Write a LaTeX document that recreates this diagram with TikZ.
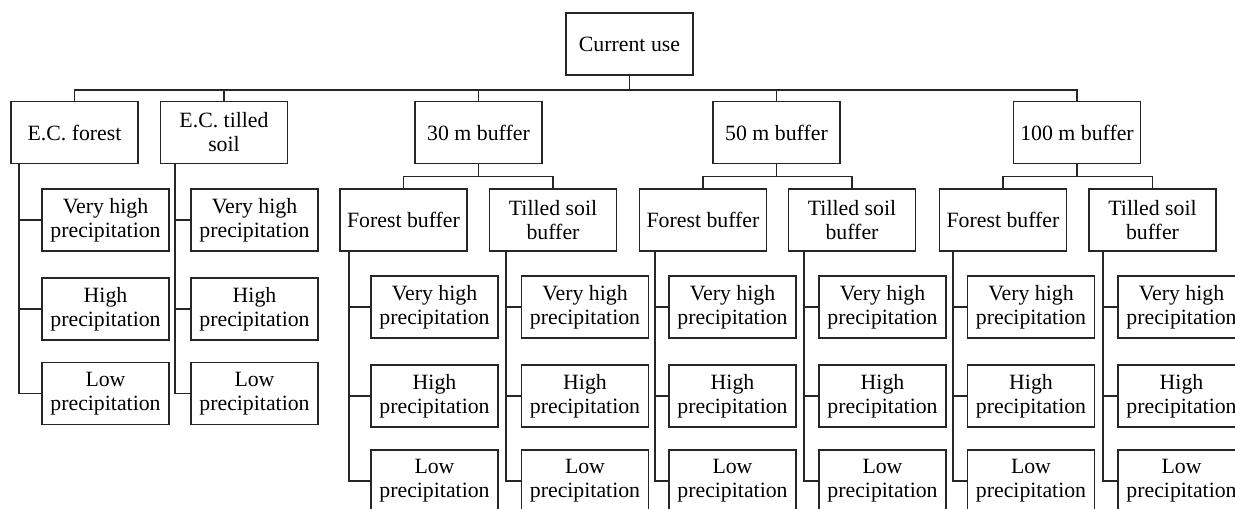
\documentclass[tikz,border=0pt]{standalone}
\usepackage{fontspec}
\setmainfont{Liberation Serif}
\begin{document}
\begin{tikzpicture}[x=1pt,y=-1pt,
  box/.style={draw=black!85, line width=1.8pt, minimum width=127pt, minimum height=62pt,
    inner sep=0pt, align=center, font=\fontsize{21.8}{24}\selectfont},
  conn/.style={draw=black!85, line width=1.8pt}]
\clip (0,0) rectangle (1235,509);
% root
\node[box] (cu) at (629.5,44) {Current use};
% level 1
\node[box] (ecf) at (74.5,132.5) {E.C. forest};
\node[box] (ect) at (224,132.5) {E.C. tilled\\soil};
\node[box] (b30) at (478.5,132.5) {30 m buffer};
\node[box] (b50) at (776.5,132.5) {50 m buffer};
\node[box] (b100) at (1077,132.5) {100 m buffer};
% level 2
\node[box] (f30) at (403.5,220) {Forest buffer};
\node[box] (t30) at (553,220) {Tilled soil\\buffer};
\node[box] (f50) at (703,220) {Forest buffer};
\node[box] (t50) at (852,220) {Tilled soil\\buffer};
\node[box] (f100) at (1003,220) {Forest buffer};
\node[box] (t100) at (1152.5,220) {Tilled soil\\buffer};
% E.C. children
\foreach \p/\x in {ecf/105.5, ect/254.5}{
  \node[box] (\p a) at (\x,220) {Very high\\precipitation};
  \node[box] (\p b) at (\x,309) {High\\precipitation};
  \node[box] (\p c) at (\x,393.5) {Low\\precipitation};
}
% buffer children
\foreach \p/\x in {f30/434.5, t30/585, f50/732.5, t50/882.5, f100/1031, t100/1181.5}{
  \node[box] (\p a) at (\x,307) {Very high\\precipitation};
  \node[box] (\p b) at (\x,396) {High\\precipitation};
  \node[box] (\p c) at (\x,481) {Low\\precipitation};
}
% root connectors
\foreach \c in {ecf,ect,b30,b50,b100}
  \draw[conn] (cu.south) -- ++(0,14) -| (\c.north);
% level 2 connectors
\foreach \p/\a/\b in {b30/f30/t30, b50/f50/t50, b100/f100/t100}{
  \draw[conn] (\p.south) -- ++(0,12) -| (\a.north);
  \draw[conn] (\p.south) -- ++(0,12) -| (\b.north);
}
% leaf connectors
\foreach \p/\o in {ecf/9, ect/15, f30/10, t30/17, f50/16, t50/16, f100/14, t100/15}{
  \coordinate (\p v) at ([xshift=\o pt]\p.south west);
  \draw[conn] (\p v) |- (\p c.west);
  \draw[conn] (\p v) |- (\p a.west);
  \draw[conn] (\p v) |- (\p b.west);
}
\end{tikzpicture}
\end{document}
